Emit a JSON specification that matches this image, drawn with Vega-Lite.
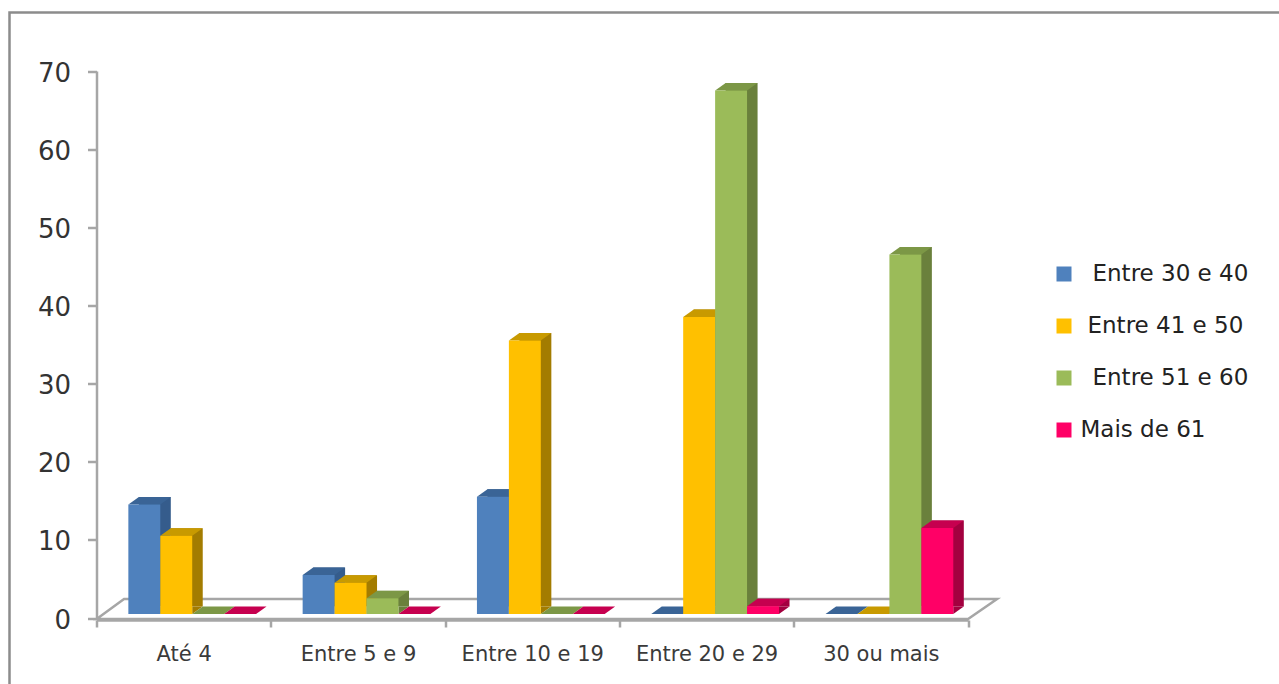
{"$schema":"https://vega.github.io/schema/vega-lite/v6.json","width":1272,"height":674,"autosize":"none","padding":{"left":9.5,"top":12.5,"right":0,"bottom":0},"background":"white","view":{"stroke":"#8c8c8c","strokeWidth":2.5},"config":{"font":"DejaVu Sans"},"data":{"values":[{"cat":"Até 4","series":"Entre 30 e 40","v":14},{"cat":"Até 4","series":"Entre 41 e 50","v":10},{"cat":"Até 4","series":"Entre 51 e 60","v":0},{"cat":"Até 4","series":"Mais de 61","v":0},{"cat":"Entre 5 e 9","series":"Entre 30 e 40","v":5},{"cat":"Entre 5 e 9","series":"Entre 41 e 50","v":4},{"cat":"Entre 5 e 9","series":"Entre 51 e 60","v":2},{"cat":"Entre 5 e 9","series":"Mais de 61","v":0},{"cat":"Entre 10 e 19","series":"Entre 30 e 40","v":15},{"cat":"Entre 10 e 19","series":"Entre 41 e 50","v":35},{"cat":"Entre 10 e 19","series":"Entre 51 e 60","v":0},{"cat":"Entre 10 e 19","series":"Mais de 61","v":0},{"cat":"Entre 20 e 29","series":"Entre 30 e 40","v":0},{"cat":"Entre 20 e 29","series":"Entre 41 e 50","v":38},{"cat":"Entre 20 e 29","series":"Entre 51 e 60","v":67},{"cat":"Entre 20 e 29","series":"Mais de 61","v":1},{"cat":"30 ou mais","series":"Entre 30 e 40","v":0},{"cat":"30 ou mais","series":"Entre 41 e 50","v":0},{"cat":"30 ou mais","series":"Entre 51 e 60","v":46},{"cat":"30 ou mais","series":"Mais de 61","v":11}]},"encoding":{"x":{"field":"cat","type":"nominal","sort":null,"title":null,"scale":{"type":"band","range":[87,958.5],"paddingInner":0,"paddingOuter":0},"axis":{"orient":"bottom","offset":-66.5,"labelAngle":0,"labelFont":"DejaVu Sans","labelFontSize":21,"labelColor":"#3a3a3a","labelPadding":16,"tickBand":"extent","tickSize":7,"tickWidth":2.5,"tickColor":"#a6a6a6","domainColor":"#a6a6a6","domainWidth":2.5,"grid":false}},"y":{"field":"v","type":"quantitative","title":null,"scale":{"domain":[0,70],"range":[605.5,58.5],"nice":false},"axis":{"orient":"left","offset":-87,"values":[0,10,20,30,40,50,60,70],"labelFont":"DejaVu Sans","labelFontSize":26,"labelColor":"#333333","labelPadding":17,"labelOffset":2,"tickSize":9,"tickWidth":2.5,"tickColor":"#a6a6a6","domainColor":"#a6a6a6","domainWidth":2.5,"grid":false}}},"layer":[{"transform":[{"filter":"datum.cat == 'Até 4' && datum.series == 'Mais de 61'"}],"mark":{"type":"point","shape":"M-87,1L-59.6,-19H813.4L784.4,1Z","size":4,"filled":true,"fill":"white","opacity":1,"stroke":"#a6a6a6","strokeWidth":2.5},"encoding":{"y":{"datum":0,"type":"quantitative"}}},{"mark":{"type":"bar","yOffset":-11.5,"y2Offset":-11.5},"encoding":{"xOffset":{"field":"series","type":"nominal","sort":null,"scale":{"type":"band","paddingInner":0,"paddingOuter":0.729,"align":0.91}},"color":{"field":"series","type":"nominal","sort":null,"legend":null,"scale":{"range":["#355C8C","#A37C00","#6A803C","#A3003F"]}}}},{"transform":[{"filter":"datum.v > 0"}],"mark":{"type":"point","shape":"M15.95,-4L26.45,-11.5H15.95Z","size":4,"filled":true,"opacity":1,"strokeWidth":0},"encoding":{"y":{"datum":0,"type":"quantitative"},"xOffset":{"field":"series","type":"nominal","sort":null,"scale":{"type":"band","paddingInner":0,"paddingOuter":0.729,"align":0.684}},"color":{"field":"series","type":"nominal","sort":null,"legend":null,"scale":{"range":["#355C8C","#A37C00","#6A803C","#A3003F"]}}}},{"mark":{"type":"point","shape":"M-15.95,-4H15.95L26.45,-11.5H-5.45Z","size":4,"filled":true,"opacity":1,"strokeWidth":0},"encoding":{"xOffset":{"field":"series","type":"nominal","sort":null,"scale":{"type":"band","paddingInner":0,"paddingOuter":0.729,"align":0.684}},"color":{"field":"series","type":"nominal","sort":null,"legend":null,"scale":{"range":["#3A6496","#C89A00","#7C9746","#C6004F"]}}}},{"mark":{"type":"bar","yOffset":-4,"y2Offset":-4},"encoding":{"xOffset":{"field":"series","type":"nominal","sort":null,"scale":{"type":"band","paddingInner":0,"paddingOuter":0.729,"align":0.684}},"color":{"field":"series","type":"nominal","sort":null,"scale":{"range":["#4F81BD","#FFC000","#9BBB59","#FF0066"]},"legend":{"title":null,"orient":"none","legendX":1043,"legendY":250,"symbolType":"square","symbolSize":225,"symbolStrokeWidth":0,"labelFont":"DejaVu Sans","labelFontSize":23,"labelColor":"#222222","labelOffset":5,"rowPadding":28,"labelLimit":300,"encode":{"labels":{"update":{"dx":{"signal":"indexof(datum.value,'41') >= 0 ? 7 : indexof(datum.value,'Mais') >= 0 ? 0 : 12"}}}}}}}}],"resolve":{"scale":{"color":"independent","xOffset":"independent"},"legend":{"color":"independent"}}}
